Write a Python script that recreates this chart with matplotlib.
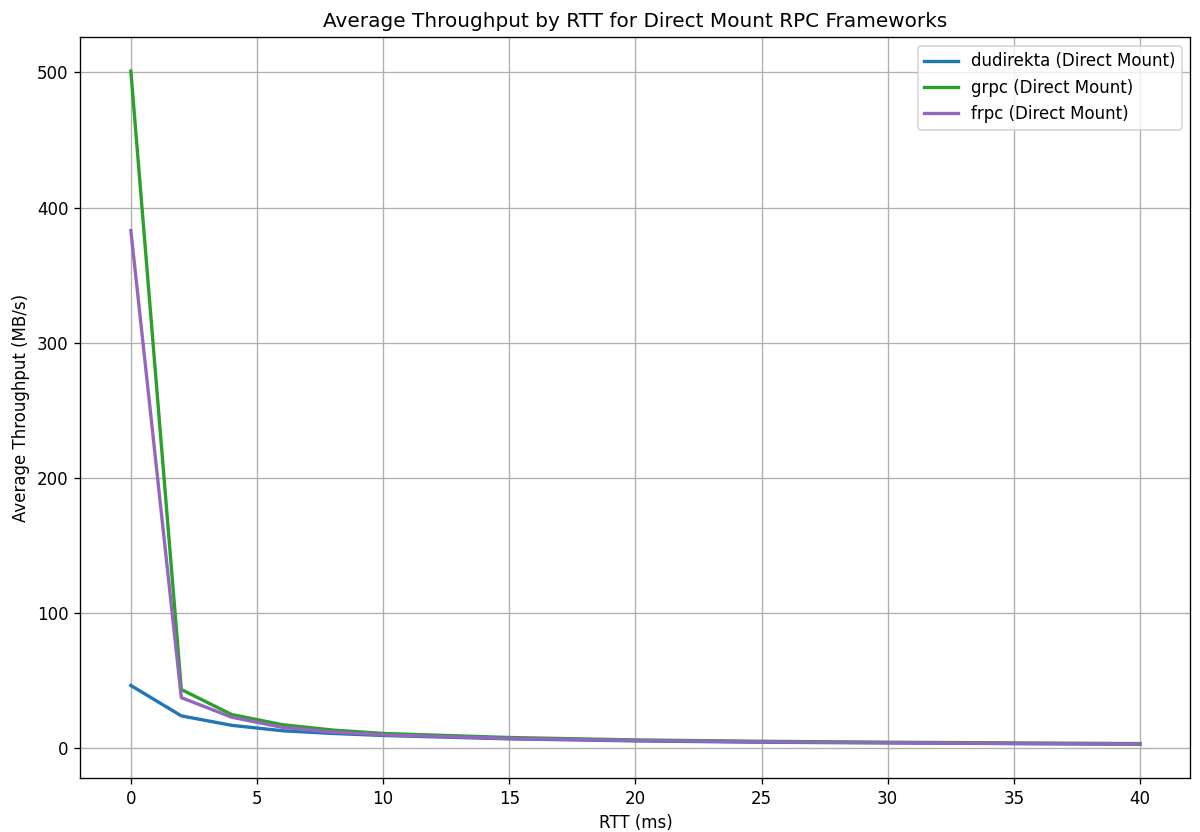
import matplotlib.pyplot as plt

rtt = [0, 2, 4, 6, 8, 10, 15, 20, 25, 30, 35, 40]
dudirekta = [46.5, 24, 17, 13, 11, 9.5, 7, 5.5, 4.5, 4, 3.5, 3]
grpc = [501, 43.5, 25, 17.5, 13.5, 11, 8, 6.2, 5.2, 4.5, 4, 3.5]
frpc = [383, 37.5, 23, 15.5, 12, 10, 7.3, 5.8, 4.8, 4.2, 3.6, 3.2]

fig, ax = plt.subplots(figsize=(10, 832 / 120), dpi=120)

ax.plot(rtt, dudirekta, color='#1f77b4', linewidth=2, label='dudirekta (Direct Mount)')
ax.plot(rtt, grpc, color='#2ca02c', linewidth=2, label='grpc (Direct Mount)')
ax.plot(rtt, frpc, color='#9467bd', linewidth=2, label='frpc (Direct Mount)')

ax.set_title('Average Throughput by RTT for Direct Mount RPC Frameworks')
ax.set_xlabel('RTT (ms)')
ax.set_ylabel('Average Throughput (MB/s)')
ax.grid(True)
ax.legend(loc='upper right')

plt.subplots_adjust(left=0.067, right=0.992, top=0.955, bottom=0.065)
plt.savefig('out.png')
